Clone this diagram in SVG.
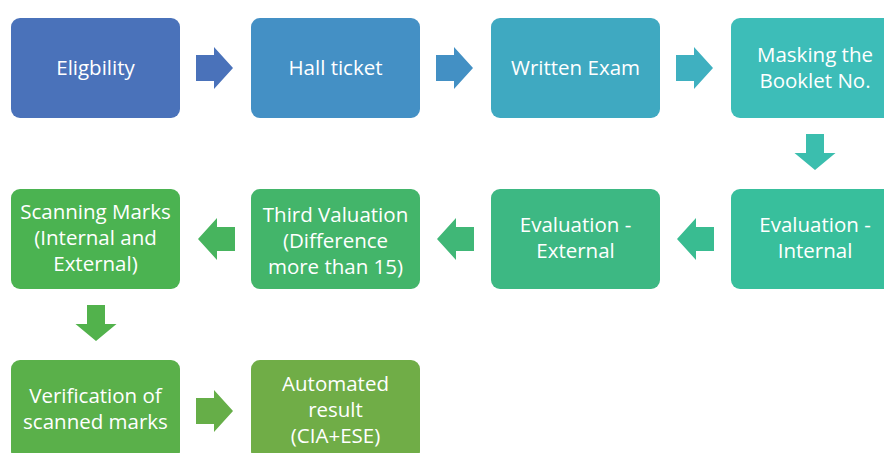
<svg xmlns="http://www.w3.org/2000/svg" width="884" height="453" viewBox="0 0 884 453">
<style>
.box{stroke:none}
.t{font-family:"Open Sans","Liberation Sans",sans-serif;font-size:20.5px;fill:#ffffff;text-anchor:middle}
</style>
<defs>
<path id="ar" d="M0,-13 H18 V-21 L37,0 L18,21 V13 H0 Z"/>
<path id="al" d="M0,-12 H-18 V-21 L-37,0 L-18,21 V12 H0 Z"/>
<path id="ad" d="M-9,0 V19 H-20.5 L0,36 L20.5,19 H9 V0 Z"/>
</defs>
<rect width="884" height="453" fill="#ffffff"/>
<g id="n1"><rect class="box" x="11" y="18" width="169" height="100" rx="9" fill="#4A72BA"/><text class="t" x="95.5" y="75">Eligbility</text></g>
<g id="n2"><rect class="box" x="251" y="18" width="169" height="100" rx="9" fill="#4490C5"/><text class="t" x="335.5" y="75">Hall ticket</text></g>
<g id="n3"><rect class="box" x="491" y="18" width="169" height="100" rx="9" fill="#3FA9C1"/><text class="t" x="575.5" y="75">Written Exam</text></g>
<g id="n4"><rect class="box" x="731" y="18" width="169" height="100" rx="9" fill="#3DBDB8"/><text class="t" x="815" y="62">Masking the</text><text class="t" x="815" y="88">Booklet No.</text></g>
<g id="n5"><rect class="box" x="731" y="189" width="169" height="100" rx="9" fill="#38BF9C"/><text class="t" x="815" y="232">Evaluation -</text><text class="t" x="815" y="258">Internal</text></g>
<g id="n6"><rect class="box" x="491" y="189" width="169" height="100" rx="9" fill="#3DB883"/><text class="t" x="575.5" y="232">Evaluation -</text><text class="t" x="575.5" y="258">External</text></g>
<g id="n7"><rect class="box" x="251" y="189" width="169" height="100" rx="9" fill="#43B56A"/><text class="t" x="335.5" y="222">Third Valuation</text><text class="t" x="335.5" y="248">(Difference</text><text class="t" x="335.5" y="274">more than 15)</text></g>
<g id="n8"><rect class="box" x="11" y="189" width="169" height="100" rx="9" fill="#4BB351"/><text class="t" x="95.5" y="219">Scanning Marks</text><text class="t" x="95.5" y="245">(Internal and</text><text class="t" x="95.5" y="271">External)</text></g>
<g id="n9"><rect class="box" x="11" y="360" width="169" height="100" rx="9" fill="#5AB04A"/><text class="t" x="95.5" y="403">Verification of</text><text class="t" x="95.5" y="429">scanned marks</text></g>
<g id="n10"><rect class="box" x="251" y="360" width="169" height="100" rx="9" fill="#70AD47"/><text class="t" x="335.5" y="391">Automated</text><text class="t" x="335.5" y="417">result</text><text class="t" x="335.5" y="443">(CIA+ESE)</text></g>
<g id="connectors">
<use href="#ar" x="196" y="68" fill="#4A72BA"/>
<use href="#ar" x="436" y="68" fill="#4390C4"/>
<use href="#ar" x="676" y="68" fill="#3FB0C0"/>
<use href="#ad" x="815" y="134" fill="#3BBEAE"/>
<use href="#al" x="714" y="239" fill="#39BC91"/>
<use href="#al" x="474" y="239" fill="#40B777"/>
<use href="#al" x="235" y="239" fill="#47B45E"/>
<use href="#ad" x="96" y="305" fill="#52B24C"/>
<use href="#ar" x="196" y="411" fill="#66AE48"/>
</g>
</svg>
